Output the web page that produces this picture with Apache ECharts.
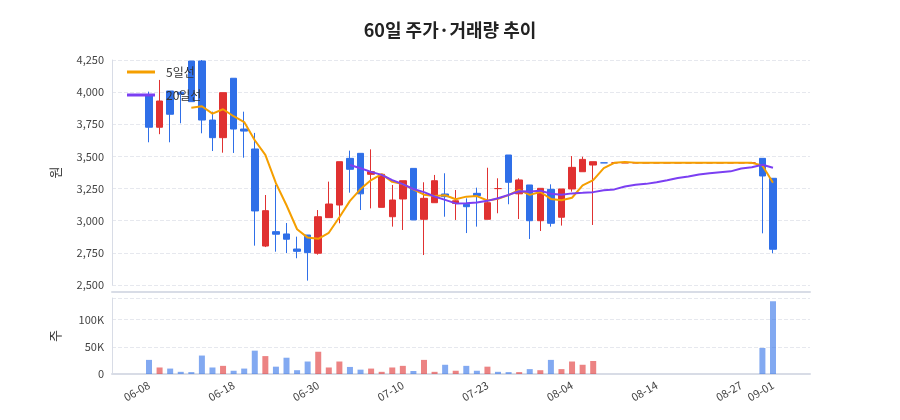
<!DOCTYPE html>
<html><head><meta charset="utf-8">
<script src="https://cdn.jsdelivr.net/npm/echarts@6/dist/echarts.min.js"></script>
<style>html,body{margin:0;padding:0;background:#fff}#c{width:900px;height:420px}</style>
</head><body><div id="c"></div>
<script>
const dates = ['06-08','06-09','06-10','06-11','06-12','06-15','06-16','06-17','06-18','06-19','06-22','06-23','06-24','06-25','06-26','06-29','06-30','07-01','07-02','07-03','07-06','07-07','07-08','07-09','07-10','07-13','07-14','07-15','07-16','07-20','07-21','07-22','07-23','07-24','07-27','07-28','07-29','07-30','07-31','08-03','08-04','08-05','08-06','08-07','08-10','08-11','08-12','08-13','08-14','08-18','08-19','08-20','08-21','08-24','08-25','08-26','08-27','08-28','08-31','09-01'];
const opens  = [3978,3727,4009,3999,4242,4242,3783,3646,4108,3713,3558,2803,2915,2897,2780,2889,2747,3024,3122,3485,3524,3361,3104,3031,3169,3407,3011,3140,3208,3135,3128,3213,3011,3250,3511,3209,3278,3000,3244,3027,3247,3381,3433,3450,3450,3450,3450,3450,3450,3450,3450,3450,3450,3450,3450,3450,3450,3450,3485,3330];
const closes = [3727,3931,3828,3983,3926,3783,3646,3996,3713,3697,3076,3078,2895,2856,2762,2752,3031,3130,3459,3400,3209,3381,3361,3161,3311,3006,3174,3311,3187,3155,3109,3195,3140,3250,3299,3317,3000,3252,2980,3247,3415,3477,3459,3450,3450,3450,3450,3450,3450,3450,3450,3450,3450,3450,3450,3450,3450,3450,3348,2778];
const highs  = [4004,4095,4009,4009,4242,4250,3848,3996,4108,3848,3683,3200,3278,2982,2876,2889,3083,3304,3459,3545,3524,3555,3361,3278,3311,3407,3299,3356,3369,3239,3174,3257,3412,3330,3511,3330,3278,3252,3283,3247,3503,3498,3459,3450,3450,3450,3450,3450,3450,3450,3450,3450,3450,3450,3450,3450,3450,3450,3485,3330];
const lows   = [3610,3673,3610,3758,3926,3680,3542,3529,3527,3490,2806,2795,2759,2749,2708,2534,2736,3024,2980,3218,3083,3096,3104,2954,2928,3006,2733,3140,3031,3006,2904,2954,3011,3058,3128,3013,2858,2920,2954,2962,3226,3381,2967,3450,3450,3450,3450,3450,3450,3450,3450,3450,3450,3450,3450,3450,3450,3450,2902,2747];
const volumes = [26000,12000,10000,4000,3500,34000,12000,15000,6000,10000,43000,33000,13500,30000,7000,23000,41000,12000,23000,13000,8000,10000,4000,12000,15000,5500,26000,4000,17000,6000,15000,6000,13500,4000,3500,3500,9000,7000,26000,9000,23000,17000,24000,0,0,0,0,0,0,0,0,0,0,0,0,0,0,0,48000,134000];
const priceTicks = [2500,2750,3000,3250,3500,3750,4000,4250];

const PAD = 3;
const UP='#e03131', DOWN='#2f6fe8';
function ma(n){return closes.map((c,i)=>{if(i<n-1)return '-';let s=0;for(let k=i-n+1;k<=i;k++)s+=closes[k];return +(s/n).toFixed(1);});}
const padArr = (arr, fill) => Array(PAD).fill(fill).concat(arr, Array(PAD).fill(fill));
const cats = padArr(dates, '').map((d,i)=> d===''? ' '.repeat(i+1) : d);
const kdata = padArr(dates.map((d,i)=>[opens[i],closes[i],lows[i],highs[i]]), '-');
const vdata = padArr(volumes.map((v,i)=>({value:v,itemStyle:{color:closes[i]>opens[i]?'rgba(224,49,49,0.6)':'rgba(47,111,232,0.6)'}})), '-');
const lastIdx = PAD + dates.length - 1;
const labelFn = (i)=> i>=PAD && ((i-PAD)%8===0 || i===lastIdx);
const font = '"Noto Sans CJK KR","Noto Sans",sans-serif';
const chart = echarts.init(document.getElementById('c'));
chart.setOption({
  animation:false,
  textStyle:{fontFamily:font},
  title:{text:'60일 주가·거래량 추이',left:'center',top:16,textStyle:{fontSize:18,fontWeight:'bold',color:'#222',fontFamily:font}},
  legend:{orient:'vertical',left:122,top:61,itemGap:11,itemWidth:28,itemHeight:3,icon:'rect',textStyle:{fontSize:12,color:'#333',padding:[0,0,0,6]},data:['5일선','20일선']},
  grid:[{left:112,right:90,top:60,height:225},{left:112,right:90,top:298,height:76}],
  xAxis:[
    {type:'category',gridIndex:0,data:cats,boundaryGap:true,offset:7,axisLine:{lineStyle:{color:'#d8dce6',width:2}},axisTick:{alignWithLabel:true,interval:labelFn,lineStyle:{color:'#666'}},axisLabel:{show:false},splitLine:{show:false}},
    {type:'category',gridIndex:1,data:cats,boundaryGap:true,axisLine:{lineStyle:{color:'#d8dce6',width:2}},axisTick:{alignWithLabel:true,interval:labelFn,lineStyle:{color:'#666'}},axisLabel:{interval:labelFn,rotate:30,color:'#444',fontSize:11,margin:10},splitLine:{show:false}}
  ],
  yAxis:[
    {type:'value',gridIndex:0,min:priceTicks[0],max:priceTicks[priceTicks.length-1],interval:250,name:'원',nameLocation:'middle',nameGap:50,nameTextStyle:{fontSize:13,color:'#333'},axisLine:{show:true,lineStyle:{color:'#d8dce6'}},axisLabel:{color:'#444',fontSize:11,formatter:v=>v.toLocaleString('en-US')},splitLine:{lineStyle:{type:'dashed',color:'#e6e8ee'}}},
    {type:'value',gridIndex:1,min:0,max:140000,interval:50000,name:'주',nameLocation:'middle',nameGap:50,nameTextStyle:{fontSize:13,color:'#333'},axisLine:{show:true,lineStyle:{color:'#d8dce6'}},axisLabel:{showMaxLabel:false,color:'#444',fontSize:11,formatter:v=>v===0?'0':(v/1000)+'K'},splitLine:{lineStyle:{type:'dashed',color:'#e6e8ee'}}}
  ],
  series:[
    {type:'candlestick',xAxisIndex:0,yAxisIndex:0,data:kdata,barWidth:7,itemStyle:{color:UP,color0:DOWN,borderColor:UP,borderColor0:DOWN}},
    {name:'5일선',type:'line',xAxisIndex:0,yAxisIndex:0,data:padArr(ma(5),'-'),showSymbol:false,lineStyle:{color:'#f59f00',width:2},itemStyle:{color:'#f59f00'}},
    {name:'20일선',type:'line',xAxisIndex:0,yAxisIndex:0,data:padArr(ma(20),'-'),showSymbol:false,lineStyle:{color:'#7b3ff2',width:2},itemStyle:{color:'#7b3ff2'}},
    {type:'bar',xAxisIndex:1,yAxisIndex:1,data:vdata,barWidth:6}
  ]
});
</script></body></html>
